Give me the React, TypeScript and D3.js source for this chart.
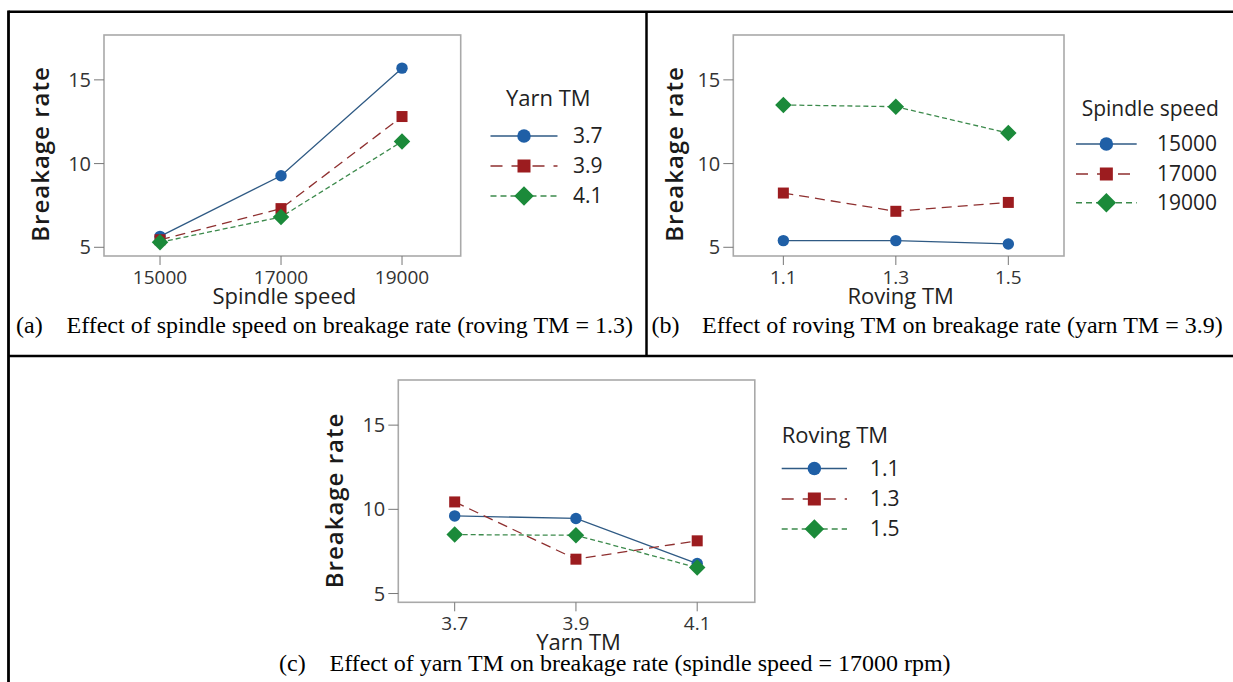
import React from "react";
import * as d3 from "d3";

// ---------- data ----------
const yTicks = [5, 10, 15];
const yDomain = [4.48, 17.68];

const speedLevels = [15000, 17000, 19000];
const rovingLevels = [1.1, 1.3, 1.5];
const yarnLevels = [3.7, 3.9, 4.1];

const speedDomain = [14074, 19970];
const rovingDomain = [1.011, 1.599];
const yarnDomain = [3.607, 4.195];

// (a) x = spindle speed, series = yarn TM
const aSeriesNames = ["3.7", "3.9", "4.1"];
const aYarn37 = [5.65, 9.27, 15.7];
const aYarn39 = [5.45, 7.31, 12.81];
const aYarn41 = [5.3, 6.81, 11.32];

// (b) x = roving TM, series = spindle speed
const bSeriesNames = ["15000", "17000", "19000"];
const bSpeed15000 = [5.4, 5.4, 5.2];
const bSpeed17000 = [8.24, 7.15, 7.68];
const bSpeed19000 = [13.5, 13.4, 11.82];

// (c) x = yarn TM, series = roving TM
const cSeriesNames = ["1.1", "1.3", "1.5"];
const cRoving11 = [9.61, 9.46, 6.78];
const cRoving13 = [10.44, 7.04, 8.13];
const cRoving15 = [8.5, 8.46, 6.54];

const captionA = "Effect of spindle speed on breakage rate (roving TM = 1.3)";
const captionB = "Effect of roving TM on breakage rate (yarn TM = 3.9)";
const captionC = "Effect of yarn TM on breakage rate (spindle speed = 17000 rpm)";

// ---------- styles ----------
const SANS = "'Open Sans', 'Noto Sans', sans-serif";
const SERIF = "'Liberation Serif', 'Times New Roman', serif";
const styles = [
  { line: "#2f5a84", fill: "#1f5fa6", dash: "none", shape: "circle" },
  { line: "#8e2f2f", fill: "#9c1c1f", dash: "10,6", shape: "square" },
  { line: "#3c8a4c", fill: "#1b8a3a", dash: "5,3", shape: "diamond" },
];

function Marker({ shape, x, y, s, fill }: any) {
  if (shape === "circle") return <circle cx={x} cy={y} r={s * 0.52} fill={fill} />;
  if (shape === "square")
    return <rect x={x - s / 2} y={y - s / 2} width={s} height={s} fill={fill} />;
  const h = s * 0.75;
  return <path d={`M${x},${y - h}L${x + h},${y}L${x},${y + h}L${x - h},${y}Z`} fill={fill} />;
}

function Panel({ g, xDomain, xLevels, fmt, series, names, xLabel, legendTitle, lg }: any) {
  const x = d3.scaleLinear().domain(xDomain).range([g.left, g.right]);
  const y = d3.scaleLinear().domain(yDomain).range([g.bottom, g.top]);
  const line = d3
    .line<number>()
    .x((_, i) => x(xLevels[i]))
    .y((d) => y(d));
  return (
    <g>
      <rect
        x={g.left}
        y={g.top}
        width={g.right - g.left}
        height={g.bottom - g.top}
        fill="none"
        stroke="#a9a9a9"
        strokeWidth={1.6}
      />
      {yTicks.map((t) => (
        <g key={t}>
          <line x1={g.left - 10} x2={g.left} y1={y(t)} y2={y(t)} stroke="#777" strokeWidth={1} />
          <text
            x={g.left - 13}
            y={y(t)}
            dy="0.35em"
            textAnchor="end"
            fontFamily={SANS}
            fontSize={20}
            fill="#333"
          >
            {t}
          </text>
        </g>
      ))}
      {xLevels.map((t: number) => (
        <g key={t}>
          <line x1={x(t)} x2={x(t)} y1={g.bottom} y2={g.bottom + 9} stroke="#777" strokeWidth={1} />
          <text
            x={x(t)}
            y={g.bottom + 27.5}
            textAnchor="middle"
            fontFamily={SANS}
            fontSize={19}
            fill="#333"
          >
            {fmt(t)}
          </text>
        </g>
      ))}
      <text
        x={(g.left + g.right) / 2 + 2}
        y={g.bottom + 48}
        textAnchor="middle"
        fontFamily={SANS}
        fontSize={22}
        fill="#222"
      >
        {xLabel}
      </text>
      <text
        transform={`translate(${g.yLabelX},${g.yLabelY}) rotate(-90)`}
        textAnchor="middle"
        fontFamily={SANS}
        fontSize={24}
        fontWeight={600}
        letterSpacing={1}
        fill="#1a1a1a"
      >
        Breakage rate
      </text>
      {series.map((vals: number[], i: number) => (
        <path
          key={"l" + i}
          d={line(vals) || ""}
          fill="none"
          stroke={styles[i].line}
          strokeWidth={1.3}
          strokeDasharray={styles[i].dash}
        />
      ))}
      {series.map((vals: number[], i: number) =>
        vals.map((v, j) => (
          <Marker
            key={"m" + i + "-" + j}
            shape={styles[i].shape}
            x={x(xLevels[j])}
            y={y(v)}
            s={11}
            fill={styles[i].fill}
          />
        ))
      )}
      <text x={lg.titleX} y={lg.titleY} fontFamily={SANS} fontSize={lg.titleSize} fill="#222">
        {legendTitle}
      </text>
      {names.map((n: string, i: number) => (
        <g key={n}>
          <line
            x1={lg.lineX1}
            x2={lg.lineX2}
            y1={lg.rows[i]}
            y2={lg.rows[i]}
            stroke={styles[i].line}
            strokeWidth={1.4}
            strokeDasharray={i === 1 ? "12,9" : i === 2 ? "6,4" : "none"}
          />
          <Marker
            shape={styles[i].shape}
            x={(lg.lineX1 + lg.lineX2) / 2}
            y={lg.rows[i]}
            s={13}
            fill={styles[i].fill}
          />
          <text
            x={lg.labelX}
            y={lg.rows[i]}
            dy="0.35em"
            fontFamily={SANS}
            fontSize={21}
            fill="#222"
          >
            {n}
          </text>
        </g>
      ))}
    </g>
  );
}

function Caption({ tag, text, x, y }: any) {
  return (
    <g fontFamily={SERIF} fontSize={24} fill="#000">
      <text x={x} y={y}>
        {tag}
      </text>
      <text x={x + 50.5} y={y}>
        {text}
      </text>
    </g>
  );
}

export default function App() {
  const fmtInt = (v: number) => d3.format("d")(v);
  const fmt1 = (v: number) => d3.format(".1f")(v);
  return (
    <svg
      width={1233}
      height={682}
      style={{ position: "absolute", left: 0, top: 0, background: "#fff" }}
    >
      <rect x={0} y={0} width={1233} height={682} fill="#fff" />
      {/* table lines */}
      <line x1={8.5} x2={1233} y1={11.7} y2={11.7} stroke="#000" strokeWidth={2.5} />
      <line x1={8.5} x2={8.5} y1={10.5} y2={682} stroke="#000" strokeWidth={2.8} />
      <line x1={646.5} x2={646.5} y1={11.7} y2={356} stroke="#000" strokeWidth={2.5} />
      <line x1={8.5} x2={1233} y1={356} y2={356} stroke="#000" strokeWidth={2.5} />

      <Panel
        g={{ left: 104, right: 460.7, top: 35, bottom: 256, yLabelX: 49, yLabelY: 154 }}
        xDomain={speedDomain}
        xLevels={speedLevels}
        fmt={fmtInt}
        series={[aYarn37, aYarn39, aYarn41]}
        names={aSeriesNames}
        xLabel="Spindle speed"
        legendTitle="Yarn TM"
        lg={{ titleX: 506, titleY: 105.7, titleSize: 22, lineX1: 490.5, lineX2: 557.5, labelX: 573, rows: [136, 166, 196] }}
      />
      <Panel
        g={{ left: 733.3, right: 1064, top: 35, bottom: 256, yLabelX: 683, yLabelY: 154 }}
        xDomain={rovingDomain}
        xLevels={rovingLevels}
        fmt={fmt1}
        series={[bSpeed15000, bSpeed17000, bSpeed19000]}
        names={bSeriesNames}
        xLabel="Roving TM"
        legendTitle="Spindle speed"
        lg={{ titleX: 1081.7, titleY: 115.7, titleSize: 21, lineX1: 1076, lineX2: 1136.7, labelX: 1157, rows: [144, 174, 202.7] }}
      />
      <Panel
        g={{ left: 398.3, right: 754.8, top: 380, bottom: 602.3, yLabelX: 343, yLabelY: 500.5 }}
        xDomain={yarnDomain}
        xLevels={yarnLevels}
        fmt={fmt1}
        series={[cRoving11, cRoving13, cRoving15]}
        names={cSeriesNames}
        xLabel="Yarn TM"
        legendTitle="Roving TM"
        lg={{ titleX: 781.7, titleY: 443, titleSize: 22, lineX1: 781.7, lineX2: 847, labelX: 870, rows: [468.5, 499, 529] }}
      />

      <Caption tag="(a)" text={captionA} x={16} y={333} />
      <Caption tag="(b)" text={captionB} x={651.5} y={333} />
      <Caption tag="(c)" text={captionC} x={279} y={671} />
    </svg>
  );
}
